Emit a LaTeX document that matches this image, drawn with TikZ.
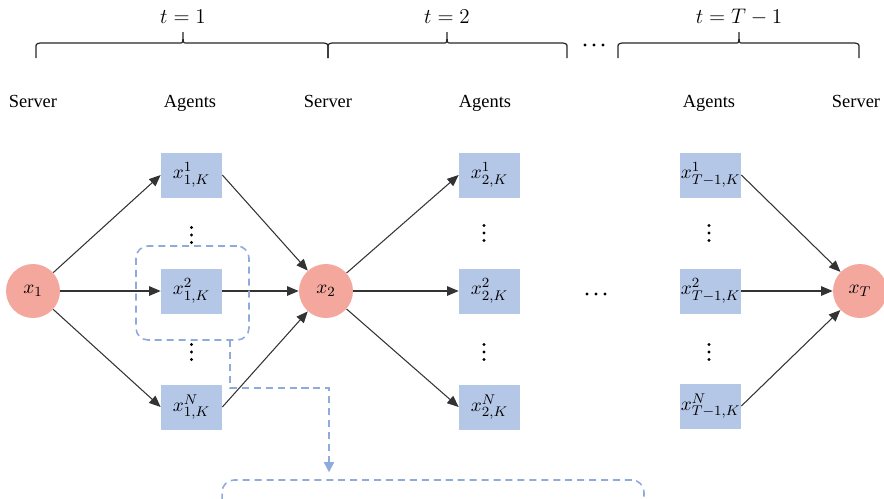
\documentclass[tikz,border=0pt]{standalone}
\usepackage{fontspec}
\setmainfont{Liberation Serif}
\usepackage{tikz}
\usetikzlibrary{arrows.meta}
\definecolor{serverred}{HTML}{F4A79D}
\definecolor{agentblue}{HTML}{B4C7E7}
\definecolor{dashblue}{HTML}{8FAADC}
\def\timebrace(#1:#2:#3){\draw[line width=0.7pt, color=black!85] (#1,58) -- (#1,48) .. controls (#1,44) .. (#1+4,43) -- (#2-3,43) .. controls (#2,43) .. (#2,32) .. controls (#2,43) .. (#2+3,43) -- (#3-4,43) .. controls (#3,44) .. (#3,48) -- (#3,58);}
\def\vdotsat(#1,#2){\fill (#1,#2-7.5) circle (1.7) (#1,#2) circle (1.7) (#1,#2+7.5) circle (1.7);}
\def\hdotsat(#1,#2){\fill (#1-9,#2) circle (1.7) (#1,#2) circle (1.7) (#1+9,#2) circle (1.7);}
\tikzset{
	server/.style={circle, fill=serverred, minimum size=1.08cm, inner sep=0pt, font=\fontsize{11}{13}\selectfont},
	agent/.style={rectangle, fill=agentblue, minimum width=1.22cm, minimum height=0.9cm, inner sep=0pt, font=\fontsize{11}{13}\selectfont},
	role/.style={anchor=base, font=\fontsize{10.5}{12}\selectfont},
	roundlabel/.style={anchor=base, font=\fontsize{11.5}{13}\selectfont},
	flow/.style={-{Triangle[length=2.3mm, width=1.9mm]}, line width=0.6pt, color=black!80},
	dashbox/.style={draw=dashblue, line width=0.9pt, dash pattern=on 4pt off 2.8pt, rounded corners=0.24cm, inner sep=0pt},
	dashflow/.style={draw=dashblue, line width=0.9pt, dash pattern=on 4pt off 2.8pt, -{Triangle[length=2mm, width=2mm]}, shorten >=1.4mm}
}

\begin{document}
\begin{tikzpicture}[x=0.02cm, y=-0.02cm]
			%%%%% START %%%%%
			\useasboundingbox (0,0) rectangle (884,498);
			\clip (0,0) rectangle (884,498);
			
			% rounds
			\timebrace(36:183:328)
			\timebrace(328:447:567)
			\timebrace(618:739:859)
			\node[roundlabel] (t1) at (183,23) {$t=1$};
			\node[roundlabel] (t2) at (447,23) {$t=2$};
			\node[roundlabel] (tT) at (739,23) {$t=T-1$};
			\hdotsat(594,45)
			
			\node[role] (s1) at (33,107) {Server};
			\node[role] (a1) at (190,107) {Agents};
			\node[role] (s2) at (328,107) {Server};
			\node[role] (a2) at (485,107) {Agents};
			\node[role] (aT) at (709,107) {Agents};
			\node[role] (sT) at (856,107) {Server};
			
			% servers
			\node[server] (x1) at (33,291) {$x_1$};
			\node[server] (x2) at (326,291) {$x_2$};
			\node[server] (xT) at (860,291) {$x_T$};
			
			% agents of round 1
			\node[agent] (b11) at (191.5,175) {$x^{1}_{1,K}$};
			\node[agent] (b12) at (191.5,291) {$x^{2}_{1,K}$};
			\node[agent] (b1N) at (191.5,407) {$x^{N}_{1,K}$};
			\vdotsat(191.5,235)
			\vdotsat(191.5,352)
			
			% agents of round 2
			\node[agent] (b21) at (489.5,175) {$x^{1}_{2,K}$};
			\node[agent] (b22) at (489.5,291) {$x^{2}_{2,K}$};
			\node[agent] (b2N) at (489.5,407) {$x^{N}_{2,K}$};
			\vdotsat(484,233)
			\vdotsat(484,352)
			
			\hdotsat(596,294)
			
			% agents of round T-1
			\node[agent] (bT1) at (710.5,175) {$x^{1}_{T-1,K}$};
			\node[agent] (bT2) at (710.5,291) {$x^{2}_{T-1,K}$};
			\node[agent] (bTN) at (710.5,406) {$x^{N}_{T-1,K}$};
			\vdotsat(709,233)
			\vdotsat(709,352)
			
			\draw[flow] (x1) -- (b11.west);
			\draw[flow] (x1) -- (b12);
			\draw[flow] (x1) -- (b1N.west);
			\draw[flow] (b11.east) -- (x2);
			\draw[flow] (b12) -- (x2);
			\draw[flow] (b1N.east) -- (x2);
			
			\draw[flow] (x2) -- (b21.west);
			\draw[flow] (x2) -- (b22);
			\draw[flow] (x2) -- (b2N.west);
			
			\draw[flow] (bT1.east) -- (xT);
			\draw[flow] (bT2) -- (xT);
			\draw[flow] (bTN.east) -- (xT);
			
			% zoom on one agent
			\node[dashbox, minimum width=2.26cm, minimum height=1.88cm] (focus) at (192.5,293) {};
			\node[dashbox, minimum width=8.44cm, minimum height=2.4cm] (detail) at (433,540) {};
			\coordinate (tap) at (230,340);
			\coordinate (bend) at (329,388);
			\draw[dashflow] (tap) |- (bend) -- (bend |- detail.north);
			
			%%%%% END %%%%%
		\end{tikzpicture}
\end{document}
